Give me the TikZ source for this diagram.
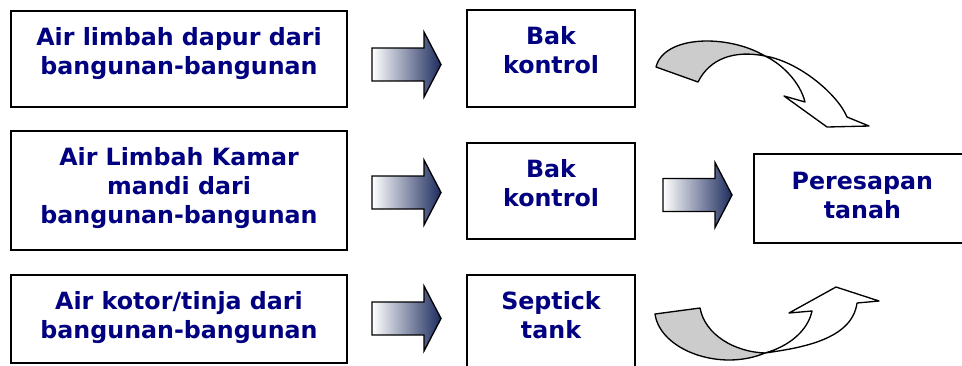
\documentclass[tikz,border=0pt]{standalone}
\usepackage{fontspec}
\setmainfont{DejaVu Sans}
\usetikzlibrary{calc,positioning}

\definecolor{navytext}{RGB}{0,0,128}
\definecolor{arrowblue}{RGB}{30,45,95}
\definecolor{ribbongray}{RGB}{204,204,204}

\tikzset{
  box/.style={draw, line width=1.5pt, inner sep=0pt, anchor=north west},
  lbl/.style={text=navytext, font=\fontsize{17.8pt}{21.75pt}\selectfont\bfseries,
    align=center, inner sep=0pt},
  ribbon/.style={draw, line width=1pt, line join=round},
  blockarrow/.pic={
    \shade[draw, line width=1pt, left color=white, right color=arrowblue]
      (-34.5,-16.5) -- (17.5,-16.5) -- (17.5,-32.5) -- (34.5,0)
      -- (17.5,32.5) -- (17.5,16.5) -- (-34.5,16.5) -- cycle;
  },
}

\begin{document}
\begin{tikzpicture}[x=0.75pt, y=-0.75pt]
  \clip (0,0) rectangle (962,365);

  % sources
  \node[box, minimum width=252pt, minimum height=72pt]    (src1) at (10,10)  {};
  \node[box, minimum width=252pt, minimum height=89.25pt] (src2) at (10,130) {};
  \node[box, minimum width=252pt, minimum height=66pt]    (src3) at (10,274) {};

  % control boxes and septic tank
  \node[box, minimum width=126pt, minimum height=72.75pt] (bak1) at (466,9)   {};
  \node[box, minimum width=126pt, minimum height=72pt]    (bak2) at (466,142) {};
  \node[box, minimum width=126pt, minimum height=82.5pt]  (bak3) at (466,274) {};

  % infiltration
  \node[box, minimum width=169.5pt, minimum height=66.75pt] (per) at (753,153) {};

  \node[lbl, below=12.75pt of src1.north] (src1-t) {Air limbah dapur dari\\bangunan-bangunan};
  \node[lbl, below=12.75pt of src2.north] (src2-t) {Air Limbah Kamar\\mandi dari\\bangunan-bangunan};
  \node[lbl, below=12.75pt of src3.north] (src3-t) {Air kotor/tinja dari\\bangunan-bangunan};
  \node[lbl, below=13pt of bak1.north]    (bak1-t) {Bak\\kontrol};
  \node[lbl, below=13pt of bak2.north]    (bak2-t) {Bak\\kontrol};
  \node[lbl, below=12.75pt of bak3.north] (bak3-t) {Septick\\tank};
  \node[lbl, below=14pt of per.north west, xshift=82pt] (per-t) {Peresapan\\tanah};

  % straight block arrows
  \pic at ([shift={(58.5,5.5)}]src1.east)  {blockarrow};
  \pic at ([shift={(58.5,2)}]src2.east)    {blockarrow};
  \pic at ([shift={(58.5,-0.5)}]src3.east) {blockarrow};
  \pic at ([shift={(61.5,4)}]bak2.east)    {blockarrow};

  % twisted arrow from the upper control box down to the infiltration
  \path[ribbon, fill=ribbongray] (656,67) .. controls (664,35) and (728,34) .. (765,56)
    .. controls (735,50) and (710,58) .. (698,82) -- cycle;
  \path[ribbon, fill=white] (765,56) .. controls (800,62) and (838,95) .. (847,117)
    -- (869,126) -- (827,127) -- (784,96) -- (805,102)
    .. controls (800,82) and (782,64) .. (765,56) -- cycle;

  % twisted arrow from the septic tank up to the infiltration
  \path[ribbon, fill=ribbongray] (655,314) .. controls (660,350) and (720,372) .. (765,353)
    .. controls (735,352) and (705,335) .. (700,308) -- cycle;
  \path[ribbon, fill=white] (765,353) .. controls (800,348) and (852,340) .. (857,303)
    -- (879,301) -- (836,287) -- (789,313) -- (812,311)
    .. controls (808,330) and (790,346) .. (765,353) -- cycle;
\end{tikzpicture}
\end{document}
